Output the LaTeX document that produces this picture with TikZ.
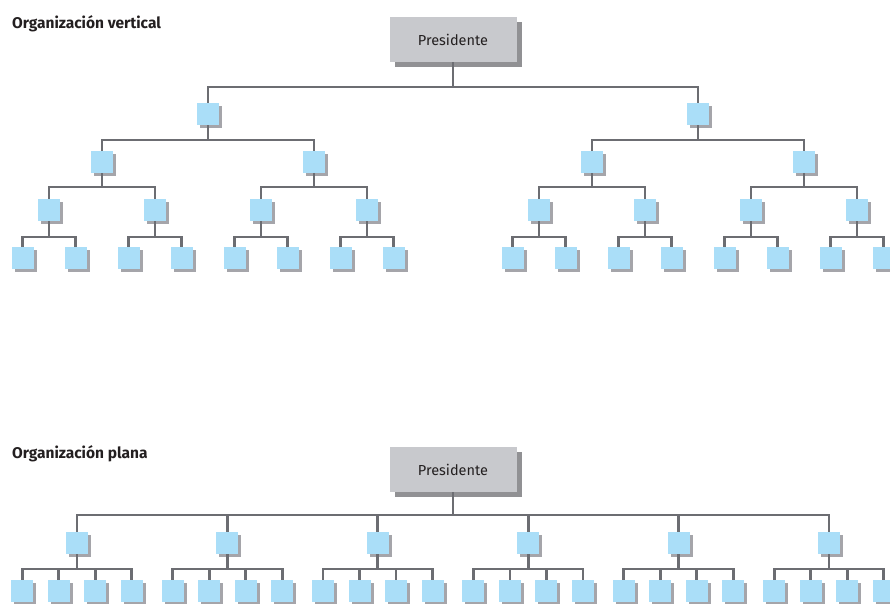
\documentclass[tikz,border=0pt]{standalone}
\usepackage{fontspec}
\setmainfont{Fira Sans}
\usetikzlibrary{shadows}
\definecolor{unitblue}{RGB}{170,222,248}
\definecolor{unitshade}{RGB}{165,165,170}
\definecolor{linkgray}{RGB}{108,109,114}
\definecolor{headfill}{RGB}{200,201,205}
\definecolor{headshade}{RGB}{145,145,148}
\definecolor{inkdark}{RGB}{35,31,32}
\begin{document}
\begin{tikzpicture}[x=1pt,y=-1pt,
  unit/.style={rectangle, inner sep=0pt, minimum width=22pt, minimum height=22pt,
    fill=unitblue,
    drop shadow={shadow xshift=3pt, shadow yshift=-3pt, fill=unitshade, opacity=1}},
  head/.style={rectangle, inner sep=0pt, minimum width=127pt, minimum height=45pt,
    fill=headfill, text=inkdark, font=\fontsize{14.5}{17}\selectfont,
    drop shadow={shadow xshift=5pt, shadow yshift=-5pt, fill=headshade, opacity=1}},
  heading/.style={anchor=base west, inner sep=0pt, text=inkdark,
    font=\bfseries\fontsize{15.5}{18}\selectfont},
  link/.style={draw=linkgray, line width=2.8pt}]
\useasboundingbox (0,0) rectangle (890,603);

% ---------- vertical organisation ----------
\node[heading] (tv) at (12,28) {Organización vertical};
\node[head] (vp) at (453,39.5) {Presidente};

\coordinate (vbus1) at (0,87);
\coordinate (vbus2) at (0,140);
\coordinate (vbus3) at (0,187);
\coordinate (vbus4) at (0,237);

\foreach \x [count=\k] in {208,698}
  \node[unit] (v1-\k) at (\x,114) {};
\foreach \x [count=\k] in {102,314,592,804}
  \node[unit] (v2-\k) at (\x,162) {};
\foreach \x [count=\k] in {49,155,261,367,539,645,751,857}
  \node[unit] (v3-\k) at (\x,210) {};
\foreach \x [count=\k] in {22.5,75.5,128.5,181.5,234.5,287.5,340.5,393.5,
                           512.5,565.5,618.5,671.5,724.5,777.5,830.5,883.5}
  \node[unit] (v4-\k) at (\x,258) {};

\foreach \k in {1,2}
  \draw[link] (vp.south) |- (v1-\k.north |- vbus1) -- (v1-\k.north);
\foreach \k in {1,...,4} {
  \pgfmathtruncatemacro{\p}{(\k+1)/2}
  \draw[link] (v1-\p.south) |- (v2-\k.north |- vbus2) -- (v2-\k.north);
}
\foreach \k in {1,...,8} {
  \pgfmathtruncatemacro{\p}{(\k+1)/2}
  \draw[link] (v2-\p.south) |- (v3-\k.north |- vbus3) -- (v3-\k.north);
}
\foreach \k in {1,...,16} {
  \pgfmathtruncatemacro{\p}{(\k+1)/2}
  \draw[link] (v3-\p.south) |- (v4-\k.north |- vbus4) -- (v4-\k.north);
}

% ---------- flat organisation ----------
\node[heading] (tp) at (12,458) {Organización plana};
\node[head] (fp) at (453,469.5) {Presidente};

\coordinate (fbus1) at (0,515);
\coordinate (fbus2) at (0,569);

\foreach \k in {1,...,6} {
  \pgfmathsetmacro{\xa}{77+150.4*(\k-1)}
  \node[unit] (f1-\k) at (\xa,543) {};
}
\foreach \k in {1,...,24} {
  \pgfmathtruncatemacro{\p}{(\k+3)/4}
  \pgfmathtruncatemacro{\q}{mod(\k-1,4)}
  \pgfmathsetmacro{\xb}{77+150.4*(\p-1)-54.75+36.5*\q}
  \node[unit] (f2-\k) at (\xb,591) {};
}

\foreach \k in {1,...,6}
  \draw[link] (fp.south) |- (f1-\k.north |- fbus1) -- (f1-\k.north);
\foreach \k in {1,...,24} {
  \pgfmathtruncatemacro{\p}{(\k+3)/4}
  \draw[link] (f1-\p.south) |- (f2-\k.north |- fbus2) -- (f2-\k.north);
}
\end{tikzpicture}
\end{document}
